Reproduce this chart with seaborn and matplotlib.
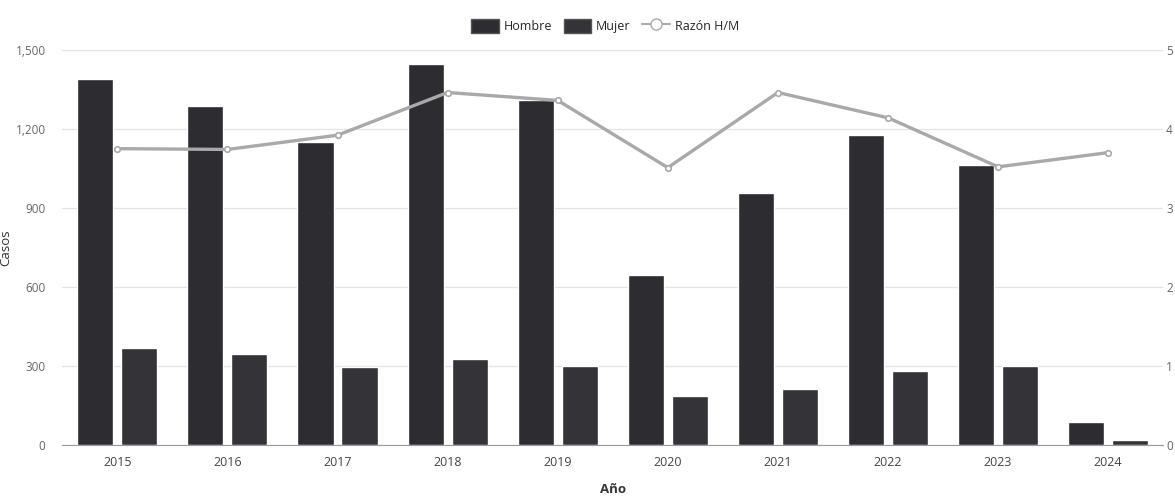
import matplotlib.pyplot as plt
import numpy as np
import pandas as pd
import seaborn as sb
from matplotlib.lines import Line2D
from matplotlib.patches import Patch

anios = ["2015", "2016", "2017", "2018", "2019", "2020", "2021", "2022", "2023", "2024"]
hombre = [1390, 1287, 1150, 1445, 1310, 645, 958, 1175, 1062, 88]
mujer = [370, 345, 298, 328, 300, 187, 215, 282, 300, 20]
razon = [3.75, 3.74, 3.92, 4.46, 4.36, 3.51, 4.46, 4.14, 3.52, 3.70]

sb.set_style("white")
plt.rcParams["font.family"] = ["Open Sans", "DejaVu Sans"]

df = pd.DataFrame({
    "Año": anios * 2,
    "Casos": hombre + mujer,
    "Sexo": ["Hombre"] * len(anios) + ["Mujer"] * len(anios),
})
df_r = pd.DataFrame({"Año": anios, "Razón": razon})

col_h = "#2c2c31"
col_m = "#333338"
col_l = "#a9a9a9"

fig = plt.figure(figsize=(11.75, 4.98), dpi=100)
ax = fig.add_axes([0.053, 0.106, 0.937, 0.794])
sb.barplot(data=df, x="Año", y="Casos", hue="Sexo", palette=[col_h, col_m],
           gap=0.18, width=0.8, ax=ax, legend=False, saturation=1)
ax.set_ylim(0, 1500)
ax.set_yticks(np.arange(0, 1501, 300))
ax.set_yticklabels(["0", "300", "600", "900", "1,200", "1,500"])
ax.set_xlim(-0.5, len(anios) - 0.5)
ax.grid(axis="y", color="#e4e4e4", linewidth=0.9)
ax.set_axisbelow(True)
for s in ["left", "right", "top"]:
    ax.spines[s].set_visible(False)
ax.spines["bottom"].set_color("#9a9a9a")
ax.spines["bottom"].set_linestyle((0, (1, 1)))
ax.tick_params(axis="x", which="major", length=0, pad=8, labelsize=9, labelcolor="#444444")
ax.tick_params(axis="y", length=0, pad=12, labelsize=8.5, labelcolor="#666666")
ax.set_xticks(np.arange(-0.5, len(anios), 1), minor=True)
ax.tick_params(axis="x", which="minor", length=4, color="#888888")
ax.set_xlabel("Año", fontsize=9.5, fontweight="bold", color="#333333", labelpad=10)
ax.set_ylabel("Casos", fontsize=9.5, color="#333333")
ax.yaxis.set_label_coords(-0.045, 0.5)

ax2 = ax.twinx()
sb.pointplot(data=df_r, x="Año", y="Razón", ax=ax2, color=col_l, markers="o",
             markersize=4, markerfacecolor="white", markeredgewidth=1.2, linewidth=2.4)
ax2.set_ylim(0, 5)
ax2.set_yticks(np.arange(0, 6, 1))
ax2.set_ylabel("")
ax2.set_xlim(-0.5, len(anios) - 0.5)
for s in ["left", "right", "top", "bottom"]:
    ax2.spines[s].set_visible(False)
ax2.tick_params(axis="y", length=0, pad=2, labelsize=8.5, labelcolor="#666666")

handles = [
    Patch(facecolor=col_h, edgecolor="#555555", label="Hombre"),
    Patch(facecolor=col_m, edgecolor="#555555", label="Mujer"),
    Line2D([0], [0], color=col_l, marker="o", markerfacecolor="white", markersize=8, linewidth=1.5, label="Razón H/M"),
]
fig.legend(handles=handles, loc="center", bbox_to_anchor=(0.515, 0.948), ncol=3, frameon=False,
           fontsize=9, handlelength=2.2, handleheight=1.3, columnspacing=0.9, handletextpad=0.4)

fig.savefig("out.png", dpi=100)
